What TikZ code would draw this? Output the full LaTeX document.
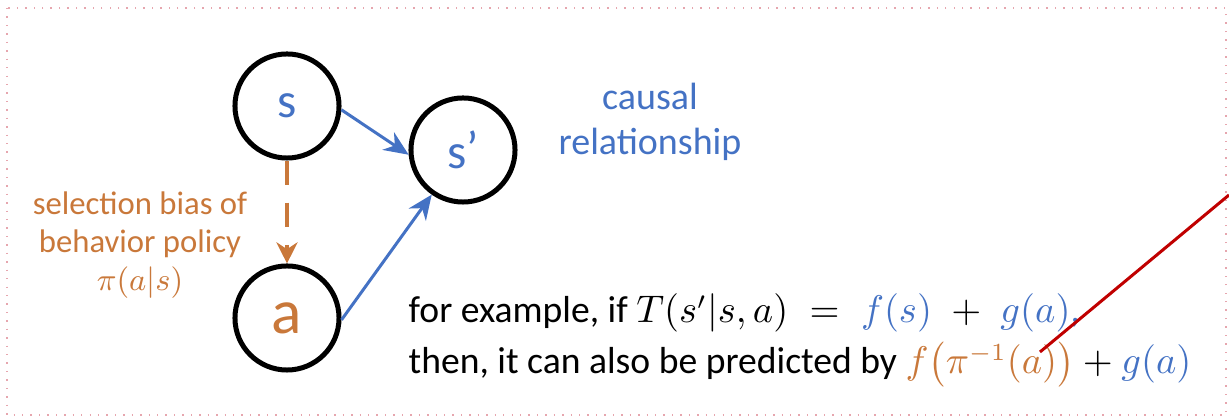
\documentclass[tikz,border=0pt]{standalone}
\usepackage{amsmath, amssymb}
\usepackage{fontspec}
\setmainfont{Carlito}
\usepackage{tikz}
\usetikzlibrary{arrows.meta, positioning}

\definecolor{azul}{HTML}{4472C4}
\definecolor{naranja}{HTML}{C9783A}
\definecolor{rojo}{HTML}{C00000}
\definecolor{marco}{HTML}{E6A6AE}

\begin{document}
\begin{tikzpicture}[x=0.01cm, y=-0.01cm,
    estado/.style={circle, draw=black, line width=0.05cm, minimum size=1.04cm, inner sep=0pt},
    causal/.style={-{Stealth[length=7pt, width=6pt]}, azul, line width=0.03cm},
    sesgo/.style={-{Stealth[length=6pt, width=6pt]}, naranja, line width=0.04cm, dash pattern=on 7pt off 5pt},
    etiqueta/.style={font=\fontsize{10.8}{13}\selectfont, align=center}]
    \useasboundingbox (0,0) rectangle (1229,419);

    % Marco
    \draw[marco, line width=0.4pt, dotted] (7,8) rectangle (1226,415);

    % Estados
    \node[estado, text=azul, font=\fontsize{14}{14}\selectfont] (s) at (287,106) {s};
    \node[estado, text=naranja, font=\fontsize{18}{18}\selectfont] (a) at (287,318) {a};
    \node[estado, text=azul, font=\fontsize{14}{14}\selectfont] (sp) at (463,150) {s\raisebox{0.1ex}{’}};

    % Aristas
    \draw[causal] (s.-4) -- (sp.185);
    \draw[causal] (a.-2) -- (sp.235);
    \draw[sesgo] (s.south) -- (a.north);

    % Etiquetas
    \node[etiqueta, text=azul] (rel) at (650,122) {causal\\relationship};
    \node[etiqueta, text=naranja, font=\fontsize{9.3}{10.8}\selectfont] (bias) at (140,245) {selection bias of\\behavior policy\\$\pi(a|s)$};

    % Ejemplo
    \node[anchor=base west, inner sep=0pt, font=\fontsize{10.7}{15}\selectfont] (linea1) at (408,323)
        {for example, if $T(s'|s,a) \;=\; {\color{azul}f(s)} \;+\; {\color{azul}g(a)}$\textcolor{azul}{,}};
    \node[anchor=base west, inner sep=0pt, font=\fontsize{10.7}{15}\selectfont] (linea2) at (408,374)
        {then, it can also be predicted by $\color{naranja}f\bigl(\pi^{-1}(a)\bigr)$ $+$ $\color{azul}g(a)$};

    % Puntero rojo
    \coordinate (punta) at (1040,352);
    \coordinate (fuera) at (1229,195);
    \draw[rojo, line width=0.03cm] (punta) -- (fuera);
\end{tikzpicture}
\end{document}
